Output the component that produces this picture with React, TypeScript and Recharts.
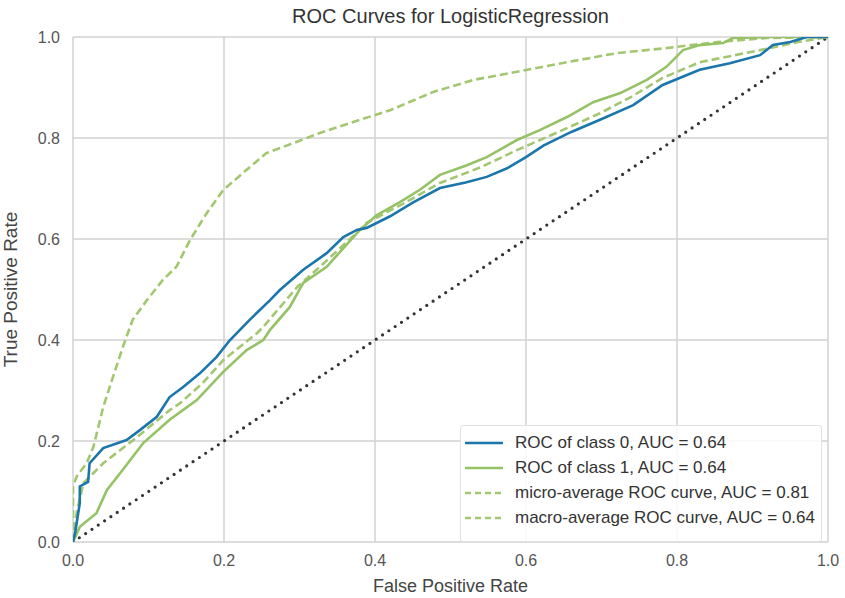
import React from "react";
import { LineChart, Line, XAxis, YAxis, CartesianGrid, Label } from "recharts";

// ROC curve points (false positive rate / true positive rate)
const class0Fpr = [0, 0.003, 0.009, 0.009, 0.02, 0.022, 0.04, 0.071, 0.089, 0.111, 0.128, 0.146, 0.168, 0.19, 0.208, 0.234, 0.261, 0.274, 0.305, 0.336, 0.358, 0.376, 0.389, 0.42, 0.45, 0.486, 0.52, 0.548, 0.575, 0.6, 0.623, 0.66, 0.698, 0.742, 0.781, 0.83, 0.87, 0.91, 0.927, 0.95, 0.972, 1];
const class0Tpr = [0, 0.02, 0.077, 0.11, 0.119, 0.156, 0.186, 0.202, 0.222, 0.248, 0.287, 0.307, 0.334, 0.366, 0.4, 0.44, 0.479, 0.499, 0.539, 0.572, 0.604, 0.618, 0.622, 0.645, 0.672, 0.701, 0.712, 0.723, 0.74, 0.762, 0.785, 0.812, 0.836, 0.865, 0.905, 0.935, 0.948, 0.964, 0.984, 0.99, 1, 1];

const class1Fpr = [0, 0.009, 0.031, 0.045, 0.066, 0.093, 0.128, 0.164, 0.199, 0.23, 0.252, 0.261, 0.287, 0.305, 0.336, 0.36, 0.38, 0.402, 0.433, 0.46, 0.486, 0.52, 0.548, 0.588, 0.619, 0.655, 0.689, 0.725, 0.76, 0.786, 0.808, 0.83, 0.861, 0.874, 0.92, 0.96, 1];
const class1Tpr = [0, 0.03, 0.057, 0.103, 0.143, 0.196, 0.242, 0.281, 0.337, 0.38, 0.4, 0.42, 0.465, 0.513, 0.545, 0.585, 0.618, 0.647, 0.673, 0.698, 0.727, 0.745, 0.762, 0.796, 0.816, 0.842, 0.871, 0.889, 0.915, 0.941, 0.974, 0.984, 0.988, 0.998, 1, 1, 1];

const microFpr = [0, 0, 0.005, 0.018, 0.027, 0.04, 0.053, 0.066, 0.079, 0.098, 0.119, 0.137, 0.155, 0.177, 0.199, 0.23, 0.256, 0.292, 0.327, 0.38, 0.42, 0.477, 0.53, 0.588, 0.654, 0.72, 0.786, 0.853, 0.919, 1];
const microTpr = [0, 0.11, 0.13, 0.156, 0.188, 0.267, 0.327, 0.386, 0.44, 0.479, 0.519, 0.545, 0.598, 0.651, 0.697, 0.737, 0.77, 0.79, 0.81, 0.836, 0.855, 0.891, 0.915, 0.931, 0.95, 0.968, 0.978, 0.99, 0.998, 1];

const macroFpr = [0, 0.005, 0.014, 0.04, 0.085, 0.128, 0.142, 0.172, 0.199, 0.244, 0.252, 0.297, 0.327, 0.38, 0.389, 0.44, 0.486, 0.54, 0.588, 0.64, 0.698, 0.74, 0.781, 0.83, 0.87, 0.91, 0.96, 1];
const macroTpr = [0, 0.06, 0.117, 0.156, 0.208, 0.261, 0.275, 0.315, 0.36, 0.414, 0.426, 0.505, 0.545, 0.618, 0.632, 0.672, 0.711, 0.742, 0.776, 0.81, 0.849, 0.882, 0.919, 0.95, 0.962, 0.974, 0.99, 1];

const diagonal = [0, 1];
const ticks = [0, 0.2, 0.4, 0.6, 0.8, 1];

const legendLabels = [
  "ROC of class 0, AUC = 0.64",
  "ROC of class 1, AUC = 0.64",
  "micro-average ROC curve, AUC = 0.81",
  "macro-average ROC curve, AUC = 0.64",
];

const BLUE = "#1a76ab";
const GREEN = "#94c265";
const GREEN_DASH = "#a3c670";
const FONT = "'Liberation Sans', Arial, sans-serif";

const toPoints = (xs: number[], ys: number[]) => xs.map((x, i) => ({ x, y: ys[i] }));

export default function App() {
  const class0 = toPoints(class0Fpr, class0Tpr);
  const class1 = toPoints(class1Fpr, class1Tpr);
  const micro = toPoints(microFpr, microTpr);
  const macro = toPoints(macroFpr, macroTpr);
  const diag = toPoints(diagonal, diagonal);

  const legendStyles = [
    { color: BLUE, dash: undefined },
    { color: GREEN, dash: undefined },
    { color: GREEN_DASH, dash: "6 4" },
    { color: GREEN_DASH, dash: "6 4" },
  ];

  return (
    <div style={{ position: "absolute", left: 0, top: 0, width: 845, height: 598, background: "#fff", fontFamily: FONT }}>
      <div
        style={{
          position: "absolute",
          left: 73,
          width: 755,
          top: 5,
          textAlign: "center",
          fontSize: 20,
          color: "#333",
        }}
      >
        ROC Curves for LogisticRegression
      </div>
      <LineChart width={845} height={598} margin={{ top: 37, right: 17, bottom: 0, left: 0 }}>
        <CartesianGrid stroke="#d2d2d2" strokeWidth={1.5} horizontalValues={ticks} verticalValues={ticks} />
        <XAxis
          type="number"
          dataKey="x"
          domain={[0, 1]}
          ticks={ticks}
          tickFormatter={(v) => v.toFixed(1)}
          axisLine={false}
          tickLine={false}
          tickSize={0}
          tickMargin={13}
          height={56}
          tick={{ fill: "#555", fontSize: 16, fontFamily: FONT }}
          allowDataOverflow
        >
          <Label value="False Positive Rate" position="insideBottom" offset={6} style={{ fill: "#444", fontSize: 18, fontFamily: FONT }} />
        </XAxis>
        <YAxis
          type="number"
          dataKey="y"
          domain={[0, 1]}
          ticks={ticks}
          tickFormatter={(v) => v.toFixed(1)}
          axisLine={false}
          tickLine={false}
          tickSize={0}
          tickMargin={13}
          width={73}
          tick={{ fill: "#555", fontSize: 16, fontFamily: FONT }}
          allowDataOverflow
        >
          <Label
            value="True Positive Rate"
            angle={-90}
            position="insideLeft"
            offset={10}
            style={{ textAnchor: "middle", fill: "#444", fontSize: 19, fontFamily: FONT }}
          />
        </YAxis>
        <Line data={diag} dataKey="y" stroke="#333" strokeWidth={3.2} strokeDasharray="0 7.6" strokeLinecap="round" dot={false} isAnimationActive={false} />
        <Line data={macro} dataKey="y" stroke={GREEN_DASH} strokeWidth={2.6} strokeDasharray="8 4" dot={false} isAnimationActive={false} />
        <Line data={micro} dataKey="y" stroke={GREEN_DASH} strokeWidth={2.6} strokeDasharray="8 4" dot={false} isAnimationActive={false} />
        <Line data={class1} dataKey="y" stroke={GREEN} strokeWidth={2.6} dot={false} isAnimationActive={false} />
        <Line data={class0} dataKey="y" stroke={BLUE} strokeWidth={2.6} dot={false} isAnimationActive={false} />
      </LineChart>
      <div
        style={{
          position: "absolute",
          left: 460,
          top: 425,
          width: 362,
          height: 117,
          background: "rgba(255,255,255,0.85)",
          border: "1px solid #e2e2e2",
          borderRadius: 3,
          boxSizing: "border-box",
          paddingTop: 4,
        }}
      >
        {legendLabels.map((label, i) => (
          <div key={label} style={{ display: "flex", alignItems: "center", height: 25 }}>
            <svg width={52} height={10} style={{ marginLeft: 2 }}>
              <line x1={2} y1={5} x2={40} y2={5} stroke={legendStyles[i].color} strokeWidth={2.6} strokeDasharray={legendStyles[i].dash} />
            </svg>
            <span style={{ fontSize: 17, color: "#333", whiteSpace: "nowrap" }}>{label}</span>
          </div>
        ))}
      </div>
    </div>
  );
}
